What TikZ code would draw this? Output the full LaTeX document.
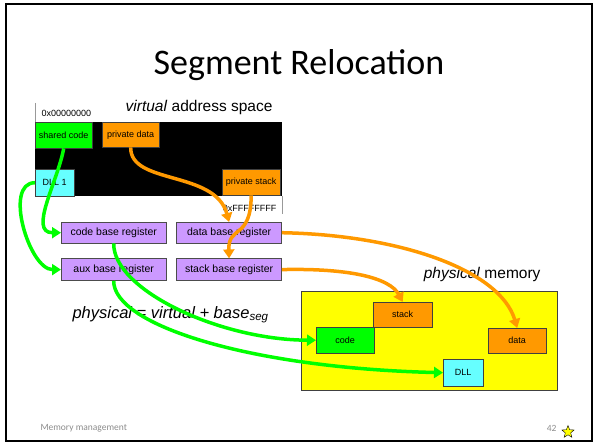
\documentclass[tikz,border=0pt]{standalone}
\usepackage{fontspec}
\setmainfont{Liberation Sans}
\newfontfamily\slidefont{Carlito}
\usetikzlibrary{positioning,arrows.meta,shapes.geometric}

\definecolor{segGreen}{HTML}{00FF00}
\definecolor{segOrange}{HTML}{FF9900}
\definecolor{segCyan}{HTML}{66FFFF}
\definecolor{regPurple}{HTML}{CC99FF}
\definecolor{memYellow}{HTML}{FFFF00}

\begin{document}
\begin{tikzpicture}[x=1pt, y=-1pt, node distance=10pt,
  every node/.style={font=\fontsize{9}{10}\selectfont},
  seg/.style={draw=black!75, inner sep=0pt, minimum width=57pt, minimum height=26pt},
  reg/.style={draw=black!70, fill=regPurple, inner sep=0pt, minimum width=105pt,
    minimum height=21pt, font=\fontsize{10.5}{12}\selectfont},
  label/.style={font=\fontsize{15.5}{18}\selectfont},
  gmap/.style={draw=segGreen, line width=3.5pt, -{Triangle[width=11pt,length=9pt]}},
  omap/.style={draw=segOrange, line width=3.5pt, -{Triangle[width=11pt,length=9pt]}}]
  \useasboundingbox (0,0) rectangle (595,444);
  \draw[line width=2.5pt] (6,4) rectangle (592,441);
  \node[font=\slidefont\fontsize{36}{40}\selectfont] (title) at (299,65) {Segment Relocation};

  % virtual address space
  \fill (35,122) rectangle (282,196);
  \draw[black!40] (35,103) -- (35,122) (282,196) -- (282,214);
  \node[anchor=base west] (lo) at (38,117) {0x00000000};
  \node[anchor=base east] (hi) at (280,211) {0xFFFFFFFF};
  \node[label, anchor=base east] (vlabel) at (276,112) {\textit{virtual} address space};
  \node[seg, fill=segGreen, anchor=north west] (sc) at (35,122) {shared code};
  \node[seg, fill=segOrange, anchor=north west, minimum height=25pt] (pd) at (102,122) {private data};
  \node[seg, fill=segCyan, anchor=north west, minimum width=39pt, minimum height=27pt] (dll1) at (35,169) {DLL 1};
  \node[seg, fill=segOrange, anchor=north west, minimum width=58pt] (ps) at (222,169) {private stack};

  % base registers
  \node[reg, anchor=north west] (cbr) at (61,222) {code base register};
  \node[reg, right=of cbr] (dbr) {data base register};
  \node[reg, below=15pt of cbr, minimum height=22pt] (abr) {aux base register};
  \node[reg, right=of abr, minimum height=22pt] (sbr) {stack base register};
  \node[font=\fontsize{16.5}{19}\selectfont, anchor=base west] (formula) at (69,318)
    {\textit{physical = virtual + base\textsubscript{seg}}};

  % physical memory
  \node[label, anchor=base east] (plabel) at (544,278) {\textit{physical} memory};
  \node[draw=black!75, fill=memYellow, anchor=north west, inner sep=0pt,
    minimum width=256pt, minimum height=99pt] (mem) at (301,291) {};
  \node[seg, fill=segOrange, anchor=north west, minimum width=59pt, minimum height=25pt] (stk) at (373,302) {stack};
  \node[seg, fill=segGreen, anchor=north west, minimum width=58pt] (code) at (316,327) {code};
  \node[seg, fill=segOrange, anchor=north west, minimum width=58pt, minimum height=25pt] (data) at (488,328) {data};
  \node[seg, fill=segCyan, anchor=north west, minimum width=40pt, minimum height=27pt] (dll) at (443,359) {DLL};

  % segments to registers
  \draw[gmap] (sc.south) to[out=-100, in=180] (cbr.west);
  \draw[gmap] (dll1.west) to[out=180, in=180, looseness=0.9] (abr.west);
  \draw[omap] (pd.south) .. controls (130,185) and (215,170) .. (dbr.north);
  \draw[omap] (ps.south) .. controls (251,240) and (228,225) .. (sbr.north);

  % registers to physical memory
  \draw[omap] (dbr.east) .. controls (400,235) and (500,270) .. (data.north);
  \draw[omap] (sbr.east) .. controls (350,268) and (390,278) .. (stk.north);
  \draw[gmap] (cbr.south) .. controls (113,290) and (220,340) .. (code.west);
  \draw[gmap] (abr.south) .. controls (113,325) and (250,368) .. (dll.west);

  % footer
  \node[font=\slidefont\fontsize{9.5}{11}\selectfont, text=black!45, anchor=west] (foot) at (37,428) {Memory management};
  \node[font=\slidefont\fontsize{9.5}{11}\selectfont, text=black!45, anchor=east] (page) at (560,428) {42};
  \node[star, star points=5, star point ratio=2.3, draw, fill=memYellow, inner sep=0pt,
    minimum size=13pt] (mark) at (568,432) {};
\end{tikzpicture}
\end{document}
